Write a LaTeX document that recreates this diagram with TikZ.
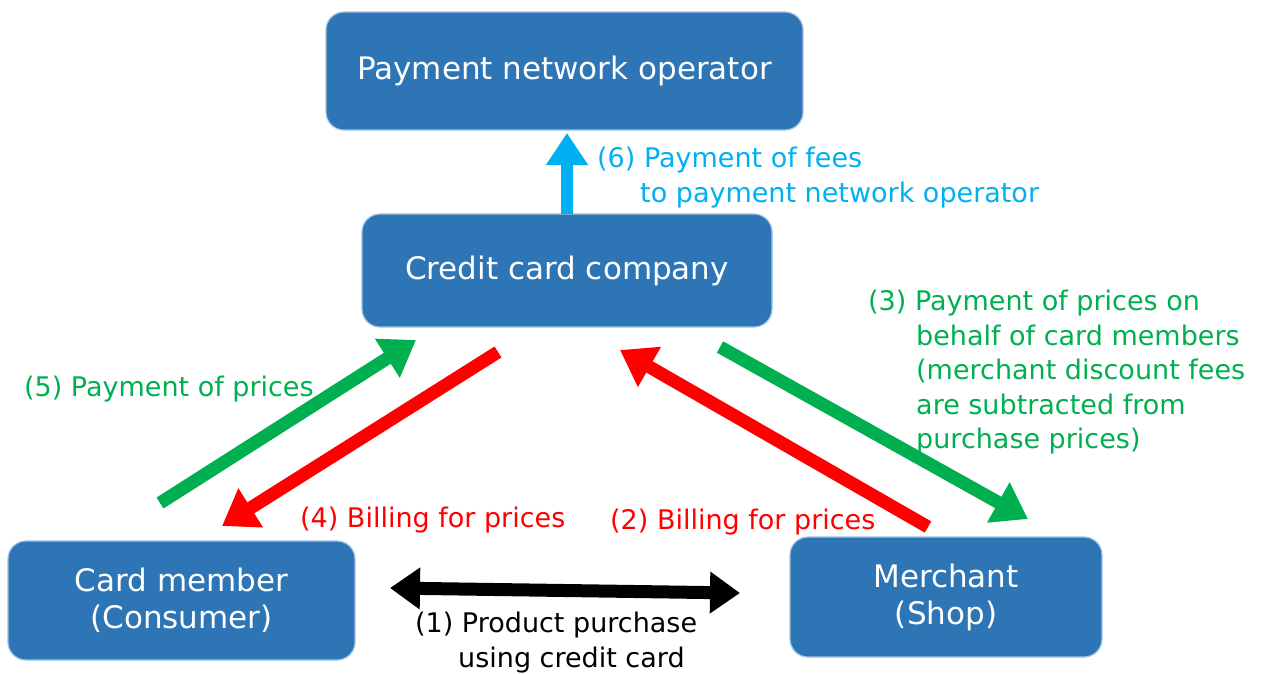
\documentclass[tikz,border=0pt]{standalone}
\usepackage{fontspec}
\setmainfont{DejaVu Sans}
\usetikzlibrary{arrows.meta}
\definecolor{boxblue}{HTML}{2E75B6}
\definecolor{boxedge}{HTML}{9DC3E6}
\definecolor{skyblue}{HTML}{00B0F0}
\definecolor{flowgreen}{HTML}{00B050}
\definecolor{flowred}{HTML}{FF0000}
\begin{document}
\begin{tikzpicture}[x=1pt,y=-1pt,
  box/.style={fill=boxblue, draw=boxedge, line width=1.2pt, rounded corners=18pt,
    text=white, font=\fontsize{31}{37}\selectfont, align=center, inner sep=0pt},
  flow/.style={line width=13pt, -{Triangle[length=34pt,width=44pt]}},
  upflow/.style={line width=12pt, -{Triangle[length=32pt,width=40pt]}},
  lbl/.style={font=\fontsize{27}{34.5}\selectfont, align=left, anchor=north west, inner sep=0pt}]
\useasboundingbox (0,0) rectangle (1268,673);
\fill[white] (0,0) rectangle (1268,673);

\node[box, minimum width=477pt, minimum height=118pt] (pno) at (564.5,71) {Payment network operator};
\node[box, minimum width=410pt, minimum height=113pt] (ccc) at (567,270.5) {Credit card company};
\node[box, minimum width=347pt, minimum height=119pt] (mem) at (181.5,600.5) {Card member\\(Consumer)};
\node[box, minimum width=312pt, minimum height=120pt] (mer) at (946,597) {Merchant\\(Shop)};

\coordinate (b6s) at (567,214);
\coordinate (b6e) at (567,133);
\coordinate (g5s) at (160,503);
\coordinate (g5e) at (416,340);
\coordinate (r4s) at (498,352);
\coordinate (r4e) at (222,526);
\coordinate (r2s) at (928,527);
\coordinate (r2e) at (620,350);
\coordinate (g3s) at (720,347);
\coordinate (g3e) at (1028,519);
\coordinate (k1l) at (390,588);
\coordinate (k1r) at (740,593);

\draw[upflow, skyblue] (b6s) -- (b6e);
\draw[flow, flowgreen] (g5s) -- (g5e);
\draw[flow, flowred] (r4s) -- (r4e);
\draw[flow, flowred] (r2s) -- (r2e);
\draw[flow, flowgreen] (g3s) -- (g3e);
\draw[line width=13pt, black, {Triangle[length=30pt,width=40pt]}-{Triangle[length=30pt,width=40pt]}] (k1l) -- (k1r);

\node[lbl, text=skyblue] (l6) at (597,147) {(6) Payment of fees\\\hspace*{43pt}to payment network operator};
\node[lbl, text=flowgreen] (l5) at (24,376) {(5) Payment of prices};
\node[lbl, text=flowred] (l4) at (300,507) {(4) Billing for prices};
\node[lbl, text=flowred] (l2) at (610,509) {(2) Billing for prices};
\node[lbl, text=flowgreen] (l3) at (868,290) {(3) Payment of prices on\\\hspace*{48pt}behalf of card members\\\hspace*{48pt}(merchant discount fees\\\hspace*{48pt}are subtracted from\\\hspace*{48pt}purchase prices)};
\node[lbl, text=black] (l1) at (415,612) {(1) Product purchase\\\hspace*{43pt}using credit card};
\end{tikzpicture}
\end{document}
